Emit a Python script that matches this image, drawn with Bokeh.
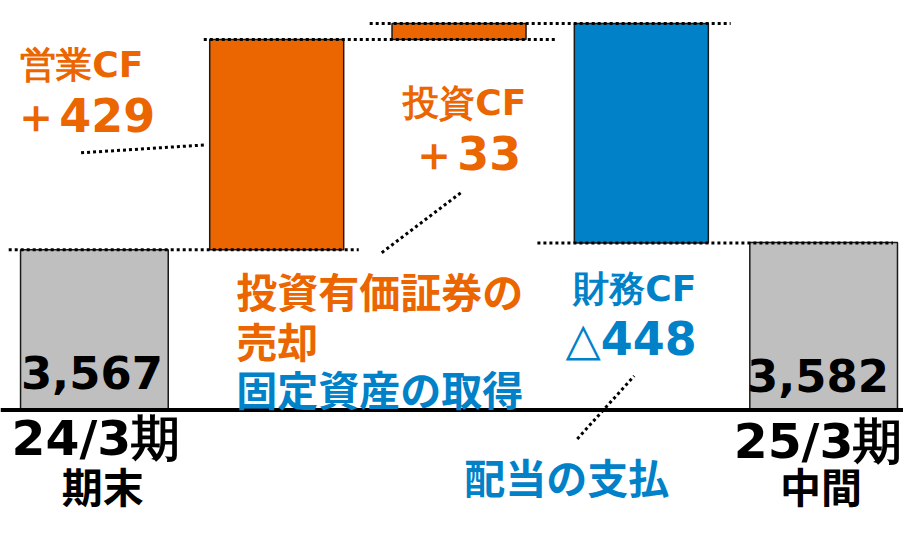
from bokeh.plotting import figure
from bokeh.models import Range1d, Label, Span, ColumnDataSource
from bokeh.embed import file_html
from bokeh.resources import INLINE

# ---- data ----
start_label = "24/3期\n期末"
end_label = "25/3期\n中間"
start_value = 3567
end_value = 3582
flow_names = ["営業CF", "投資CF", "財務CF"]
flow_values = [429, 33, -448]
axis_floor = 3240

ORANGE = "#EB6500"
BLUE = "#0081C8"
GRAY = "#BFBFBF"

W, H = 903, 517
SX, SY = W / 919, H / 533
X0, X1 = -0.515, 4.438
Y0, Y1 = 3020.7, 4075.8

p = figure(width=W, height=H, x_range=Range1d(X0, X1), y_range=Range1d(Y0, Y1),
           output_backend="svg", toolbar_location=None, min_border=0,
           x_axis_type=None, y_axis_type=None)
p.grid.visible = False
p.outline_line_color = None
p.background_fill_color = "white"
p.border_fill_color = "white"

def dx(rx):  # reference pixel -> data x
    return X0 + rx * SX * (X1 - X0) / W

def dy(ry):  # reference pixel -> data y
    return Y1 - ry * SY * (Y1 - Y0) / H

# waterfall geometry from data
cum = [start_value]
for v in flow_values:
    cum.append(cum[-1] + v)
idx = list(range(len(flow_values) + 2))
bottoms = [axis_floor]
tops = [start_value]
for i, v in enumerate(flow_values):
    lo, hi = sorted([cum[i], cum[i + 1]])
    bottoms.append(lo)
    tops.append(hi)
bottoms.append(axis_floor)
tops.append(end_value)
colors = [GRAY] + [ORANGE if v > 0 else BLUE for v in flow_values] + [GRAY]
widths = [0.81] + [0.735] * len(flow_values) + [0.81]

src = ColumnDataSource(dict(x=idx, top=tops, bottom=bottoms, color=colors, w=widths))
p.vbar(x="x", top="top", bottom="bottom", width="w", fill_color="color",
       line_color="#1a1a1a", line_width=1.5, source=src)

# dotted connectors at levels
levels = [cum[0], cum[1], cum[2], cum[3]]
seg_x0 = [idx[0] - 0.47, idx[1] - 0.40, idx[2] - 0.49, idx[3] - 0.57]
seg_x1 = [idx[1] + 0.45, idx[2] + 0.54, idx[3] + 0.49, idx[4] + 0.38]
p.segment(x0=seg_x0, y0=levels, x1=seg_x1, y1=levels,
          line_color="black", line_width=3, line_dash="3 3")

# leader lines
p.segment(x0=[dx(82), dx(388), dx(587)], y0=[dy(157), dy(260), dy(452)],
          x1=[dx(207), dx(470), dx(645)], y1=[dy(149), dy(197), dy(387)],
          line_color="black", line_width=3, line_dash="3 3")

# baseline
p.add_layout(Span(location=axis_floor, dimension="width", line_color="black", line_width=4))

JP = "Noto Sans CJK JP"
DV = "DejaVu Sans"

def lab(text, rx, ry, color, size, font=DV, align="left"):
    p.add_layout(Label(x=rx * SX, y=H - ry * SY, x_units="screen", y_units="screen",
                       text=text, text_color=color,
                       text_font_size=f"{size * (SX + SY) / 2:.1f}px",
                       text_font=font, text_font_style="bold",
                       text_align=align, text_baseline="middle"))

lab(f"{flow_names[0]}", 20, 67, ORANGE, 37)
lab(f"＋{flow_values[0]}", 13, 119, ORANGE, 47)
lab(f"{flow_names[1]}", 410, 106, ORANGE, 37)
lab(f"＋{flow_values[1]}", 418, 158, ORANGE, 47)
lab(f"{flow_names[2]}", 583, 297, BLUE, 37)
lab(f"△{abs(flow_values[2])}", 575, 349, BLUE, 47)

lab("投資有価証券の", 240, 298, ORANGE, 42, JP)
lab("売却", 240, 350, ORANGE, 42, JP)
lab("固定資産の取得", 240, 400, BLUE, 42, JP)
lab("配当の支払", 472, 490, BLUE, 42, JP)

lab(f"{start_value:,}", 93, 384, "black", 46, DV, "center")
lab(f"{end_value:,}", 832, 387, "black", 46, DV, "center")
s1, s2 = start_label.split("\n")
e1, e2 = end_label.split("\n")
lab(s1, 97, 452, "black", 50, DV, "center")
lab(s2, 104, 500, "black", 42, JP, "center")
lab(e1, 832, 455, "black", 50, DV, "center")
lab(e2, 835, 500, "black", 42, JP, "center")

open("out.html", "w").write(file_html(p, INLINE))
